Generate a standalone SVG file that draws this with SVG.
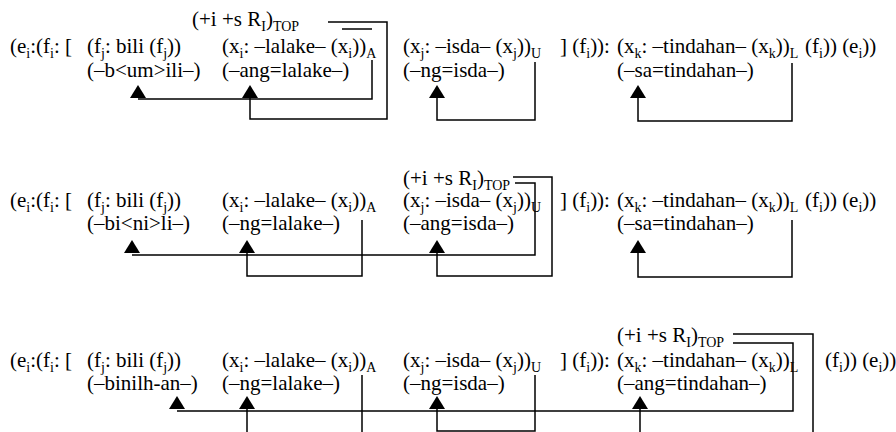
<svg xmlns="http://www.w3.org/2000/svg" xmlns:xlink="http://www.w3.org/1999/xlink" width="896" height="432" viewBox="0 0 896 432">
<style>
text{font-family:'Liberation Serif','Times New Roman',serif;font-size:21px;fill:#000}
.s{font-size:14px}
.c{fill:none;stroke:#000;stroke-width:1.5}
.a{fill:#000}
</style>
<defs>
<path id="arr" class="a" d="M0,0 L-8,13 L8,13 Z"/>
</defs>
<rect width="896" height="432" fill="#fff"/>

<g font-family="'Liberation Serif','Times New Roman',serif" font-size="21">
<!-- Block 1 -->
<g id="b1">
<g id="b1-top"><text x="192" y="26">(+i +s R<tspan class="s" dy="5">I</tspan><tspan dy="-5">)</tspan><tspan class="s" dy="5">TOP</tspan></text></g>
<g id="b1-ei"><text x="10" y="53">(e<tspan class="s" dy="5">i</tspan><tspan dy="-5">:(f</tspan><tspan class="s" dy="5">i</tspan><tspan dy="-5">: [</tspan></text></g>
<g id="b1-fj"><text x="87" y="53">(f<tspan class="s" dy="5">j</tspan><tspan dy="-5">: bili (f</tspan><tspan class="s" dy="5">j</tspan><tspan dy="-5">))</tspan></text>
<text x="87" y="77">(–b&lt;um&gt;ili–)</text></g>
<g id="b1-xi"><text x="222" y="53">(x<tspan class="s" dy="5">i</tspan><tspan dy="-5">: –lalake– (x</tspan><tspan class="s" dy="5">i</tspan><tspan dy="-5">))</tspan><tspan class="s" dy="5">A</tspan></text>
<text x="222" y="77">(–ang=lalake–)</text></g>
<g id="b1-xj"><text x="403" y="53">(x<tspan class="s" dy="5">j</tspan><tspan dy="-5">: –isda– (x</tspan><tspan class="s" dy="5">j</tspan><tspan dy="-5">))</tspan><tspan class="s" dy="5">U</tspan></text>
<text x="403" y="77">(–ng=isda–)</text></g>
<g id="b1-fi"><text x="560" y="53">] (f<tspan class="s" dy="5">i</tspan><tspan dy="-5">)):</tspan></text></g>
<g id="b1-xk"><text x="617" y="53">(x<tspan class="s" dy="5">k</tspan><tspan dy="-5">: –tindahan– (x</tspan><tspan class="s" dy="5">k</tspan><tspan dy="-5">))</tspan><tspan class="s" dy="5">L</tspan></text>
<text x="617" y="77">(–sa=tindahan–)</text></g>
<g id="b1-end"><text x="805" y="53">(f<tspan class="s" dy="5">i</tspan><tspan dy="-5">)) (e</tspan><tspan class="s" dy="5">i</tspan><tspan dy="-5">))</tspan></text></g>
</g>

<!-- Block 2 -->
<g id="b2">
<g id="b2-top"><text x="403" y="185">(+i +s R<tspan class="s" dy="5">I</tspan><tspan dy="-5">)</tspan><tspan class="s" dy="5">TOP</tspan></text></g>
<g id="b2-ei"><text x="10" y="207">(e<tspan class="s" dy="5">i</tspan><tspan dy="-5">:(f</tspan><tspan class="s" dy="5">i</tspan><tspan dy="-5">: [</tspan></text></g>
<g id="b2-fj"><text x="87" y="207">(f<tspan class="s" dy="5">j</tspan><tspan dy="-5">: bili (f</tspan><tspan class="s" dy="5">j</tspan><tspan dy="-5">))</tspan></text>
<text x="87" y="230">(–bi&lt;ni&gt;li–)</text></g>
<g id="b2-xi"><text x="222" y="207">(x<tspan class="s" dy="5">i</tspan><tspan dy="-5">: –lalake– (x</tspan><tspan class="s" dy="5">i</tspan><tspan dy="-5">))</tspan><tspan class="s" dy="5">A</tspan></text>
<text x="222" y="230">(–ng=lalake–)</text></g>
<g id="b2-xj"><text x="403" y="207">(x<tspan class="s" dy="5">j</tspan><tspan dy="-5">: –isda– (x</tspan><tspan class="s" dy="5">j</tspan><tspan dy="-5">))</tspan><tspan class="s" dy="5">U</tspan></text>
<text x="403" y="230">(–ang=isda–)</text></g>
<g id="b2-fi"><text x="560" y="207">] (f<tspan class="s" dy="5">i</tspan><tspan dy="-5">)):</tspan></text></g>
<g id="b2-xk"><text x="617" y="207">(x<tspan class="s" dy="5">k</tspan><tspan dy="-5">: –tindahan– (x</tspan><tspan class="s" dy="5">k</tspan><tspan dy="-5">))</tspan><tspan class="s" dy="5">L</tspan></text>
<text x="617" y="230">(–sa=tindahan–)</text></g>
<g id="b2-end"><text x="805" y="207">(f<tspan class="s" dy="5">i</tspan><tspan dy="-5">)) (e</tspan><tspan class="s" dy="5">i</tspan><tspan dy="-5">))</tspan></text></g>
</g>

<!-- Block 3 -->
<g id="b3">
<g id="b3-top"><text x="617" y="342">(+i +s R<tspan class="s" dy="5">I</tspan><tspan dy="-5">)</tspan><tspan class="s" dy="5">TOP</tspan></text></g>
<g id="b3-ei"><text x="10" y="367">(e<tspan class="s" dy="5">i</tspan><tspan dy="-5">:(f</tspan><tspan class="s" dy="5">i</tspan><tspan dy="-5">: [</tspan></text></g>
<g id="b3-fj"><text x="87" y="367">(f<tspan class="s" dy="5">j</tspan><tspan dy="-5">: bili (f</tspan><tspan class="s" dy="5">j</tspan><tspan dy="-5">))</tspan></text>
<text x="87" y="390">(–binilh-an–)</text></g>
<g id="b3-xi"><text x="222" y="367">(x<tspan class="s" dy="5">i</tspan><tspan dy="-5">: –lalake– (x</tspan><tspan class="s" dy="5">i</tspan><tspan dy="-5">))</tspan><tspan class="s" dy="5">A</tspan></text>
<text x="222" y="390">(–ng=lalake–)</text></g>
<g id="b3-xj"><text x="403" y="367">(x<tspan class="s" dy="5">j</tspan><tspan dy="-5">: –isda– (x</tspan><tspan class="s" dy="5">j</tspan><tspan dy="-5">))</tspan><tspan class="s" dy="5">U</tspan></text>
<text x="403" y="390">(–ng=isda–)</text></g>
<g id="b3-fi"><text x="560" y="367">] (f<tspan class="s" dy="5">i</tspan><tspan dy="-5">)):</tspan></text></g>
<g id="b3-xk"><text x="617" y="367">(x<tspan class="s" dy="5">k</tspan><tspan dy="-5">: –tindahan– (x</tspan><tspan class="s" dy="5">k</tspan><tspan dy="-5">))</tspan><tspan class="s" dy="5">L</tspan></text>
<text x="617" y="390">(–ang=tindahan–)</text></g>
<g id="b3-end"><text x="825" y="367">(f<tspan class="s" dy="5">i</tspan><tspan dy="-5">)) (e</tspan><tspan class="s" dy="5">i</tspan><tspan dy="-5">))</tspan></text></g>
</g>
</g>

<g id="connectors">
<!-- block 1 -->
<use xlink:href="#arr" href="#arr" x="138" y="85"/>
<path class="c" d="M138,99 H372 V60"/>
<use xlink:href="#arr" href="#arr" x="250" y="85"/>
<path class="c" d="M250,98 V119 H387 V22 H328"/>
<path class="c" d="M342,29 H372"/>
<use xlink:href="#arr" href="#arr" x="437" y="85"/>
<path class="c" d="M437,98 V120 H535 V62"/>
<use xlink:href="#arr" href="#arr" x="638" y="85"/>
<path class="c" d="M638,98 V121 H792 V63"/>
<!-- block 2 -->
<use xlink:href="#arr" href="#arr" x="132" y="240"/>
<path class="c" d="M132,255 H535 V183 H515"/>
<use xlink:href="#arr" href="#arr" x="247" y="240"/>
<path class="c" d="M247,253 V276 H362 V220"/>
<use xlink:href="#arr" href="#arr" x="437" y="240"/>
<path class="c" d="M437,253 V276 H552 V177 H513"/>
<use xlink:href="#arr" href="#arr" x="638" y="240"/>
<path class="c" d="M638,253 V277 H792 V220"/>
<!-- block 3 -->
<use xlink:href="#arr" href="#arr" x="177" y="396"/>
<path class="c" d="M177,411 H793 V343 H733"/>
<use xlink:href="#arr" href="#arr" x="247" y="396"/>
<path class="c" d="M247,409 V445 H362 V375"/>
<use xlink:href="#arr" href="#arr" x="437" y="396"/>
<path class="c" d="M437,409 V431 H535 V375"/>
<use xlink:href="#arr" href="#arr" x="640" y="396"/>
<path class="c" d="M640,409 V445 H813 V334 H733"/>
</g>
</svg>
